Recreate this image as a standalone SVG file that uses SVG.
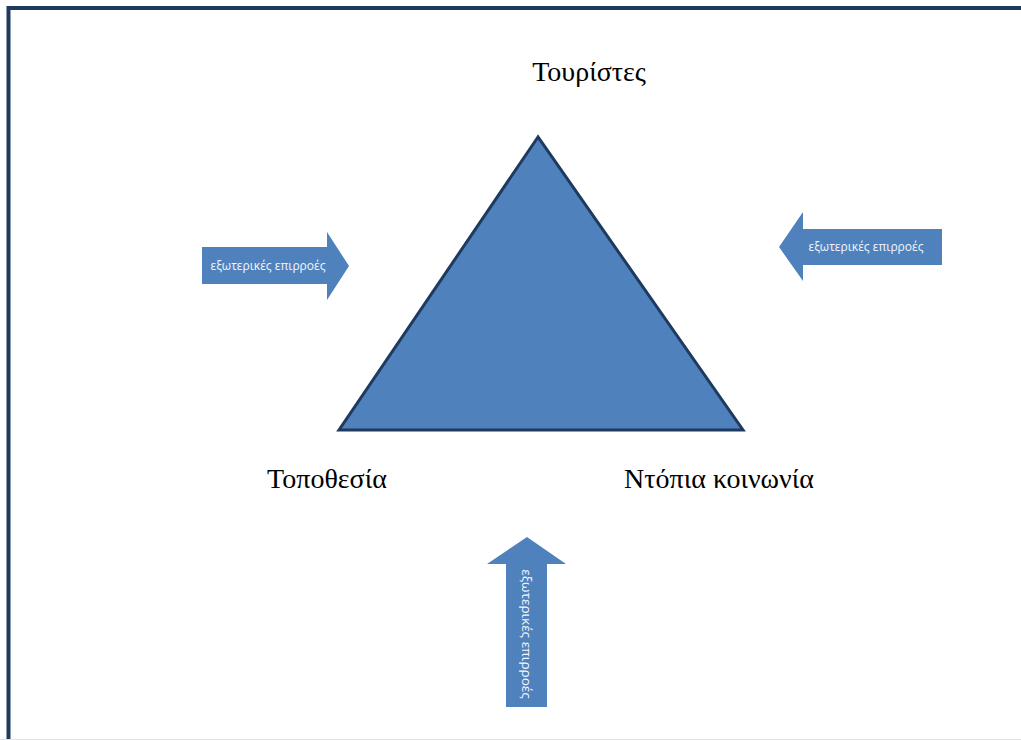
<svg xmlns="http://www.w3.org/2000/svg" width="1021" height="740" viewBox="0 0 1021 740">
<style>
.lbl{font-family:"Liberation Serif","DejaVu Serif",serif;font-size:28px;fill:#000}
.arr{fill:#4F81BD}
.atx{font-family:"Open Sans","Liberation Sans",sans-serif;font-size:12px;fill:#f4f6fa}
</style>
<rect width="1021" height="740" fill="#fff"/>
<g id="frame">
<path d="M8.5 740 V8 H1021" fill="none" stroke="#1F3A5F" stroke-width="4"/>
<line x1="0" y1="739.5" x2="1021" y2="739.5" stroke="#e3e3e3" stroke-width="1"/>
</g>
<g id="triangle">
<polygon points="538,137 339,430 743,430" fill="#4F81BD" stroke="#1F3A5F" stroke-width="3" stroke-linejoin="miter"/>
</g>
<g id="label-tourists"><text class="lbl" x="589" y="81" text-anchor="middle">Τουρίστες</text></g>
<g id="label-location"><text class="lbl" x="327" y="488" text-anchor="middle">Τοποθεσία</text></g>
<g id="label-community"><text class="lbl" x="719" y="488" text-anchor="middle">Ντόπια κοινωνία</text></g>
<g id="connectors">
<g id="arrow-left">
<polygon class="arr" points="202,247 327,247 327,232 349,266 327,300 327,284 202,284"/>
<text class="atx" x="268" y="270" text-anchor="middle">εξωτερικές επιρροές</text>
</g>
<g id="arrow-right">
<polygon class="arr" points="942,229 803,229 803,212 779,247 803,281 803,265 942,265"/>
<text class="atx" x="866" y="251" text-anchor="middle">εξωτερικές επιρροές</text>
</g>
<g id="arrow-up">
<polygon class="arr" points="506,707 506,564 487,564 527,537 566,564 547,564 547,707"/>
<text class="atx" style="font-size:13.5px" transform="translate(522,634) rotate(90)" text-anchor="middle">εξωτερικές επιρροές</text>
</g>
</g>
</svg>
